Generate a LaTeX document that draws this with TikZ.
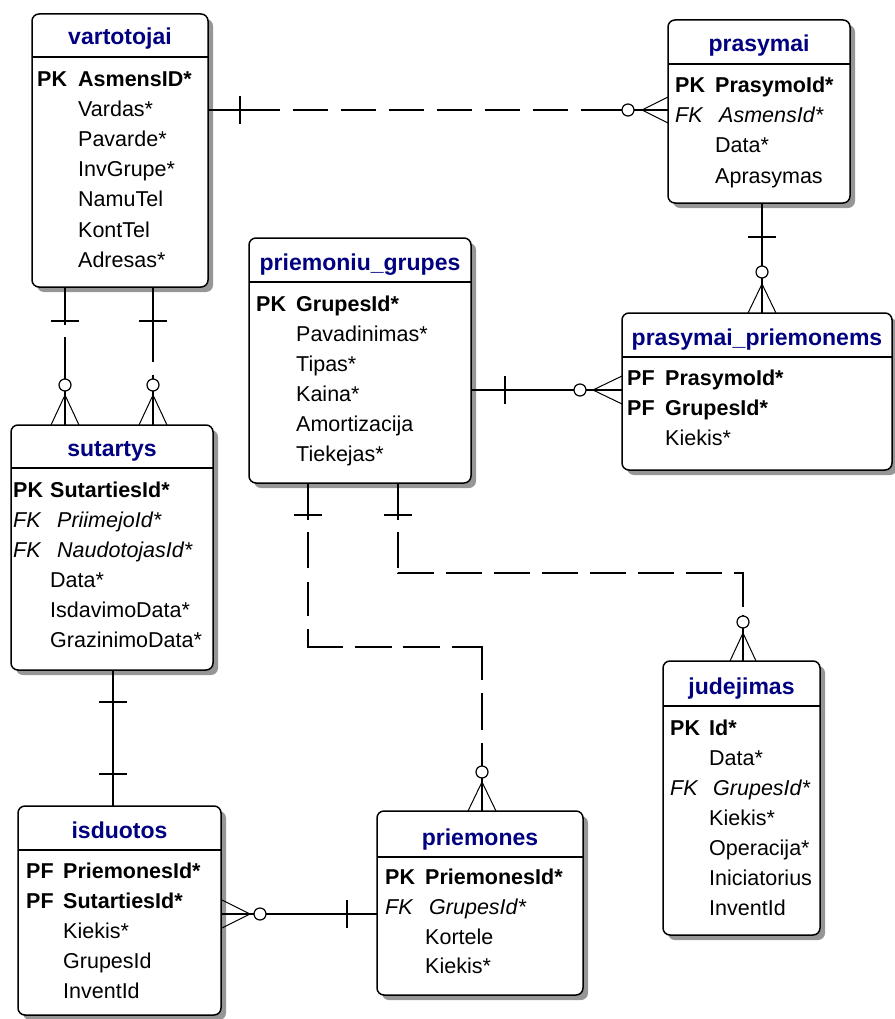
\documentclass[tikz,border=0pt]{standalone}
\usepackage{fontspec}
\setmainfont{Liberation Sans}
\usetikzlibrary{shadows}
\definecolor{titleblue}{RGB}{0,0,128}
\definecolor{shadowgray}{RGB}{150,150,150}
\newcommand\rowsize{\fontsize{21.5}{26}\selectfont}
\newcommand\ttlsize{\fontsize{23}{28}\selectfont}

\tikzset{
  entity/.style={draw, line width=1.5pt, fill=white, rounded corners=7pt,
    inner sep=0pt, outer sep=0pt,
    drop shadow={shadow xshift=5pt, shadow yshift=-5pt, fill=shadowgray, opacity=1}},
  ttl/.style={font=\ttlsize\bfseries, text=titleblue, anchor=base, inner sep=0pt},
  key/.style={font=\rowsize\bfseries, anchor=base west, inner sep=0pt},
  fkey/.style={font=\rowsize\itshape, anchor=base west, inner sep=0pt},
  attr/.style={font=\rowsize, anchor=base west, inner sep=0pt},
  sepline/.style={line width=1.5pt},
  rel/.style={line width=1.5pt},
  bar/.style={line width=1.5pt},
  foot/.style={line width=1pt},
  opt/.style={line width=1.2pt, fill=white},
}

\begin{document}
\begin{tikzpicture}[x=1pt, y=-1pt]
\useasboundingbox (0,0) rectangle (894,1019);

% ---------- tables ----------
\node[entity, minimum width=176pt, minimum height=273pt] (vartotojai) at (120,150.5) {};
\node[entity, minimum width=182pt, minimum height=183pt] (prasymai) at (759,111.5) {};
\node[entity, minimum width=270pt, minimum height=157pt] (prasymai_priemonems) at (757,391.5) {};
\node[entity, minimum width=222pt, minimum height=245pt] (priemoniu_grupes) at (360,360.5) {};
\node[entity, minimum width=202pt, minimum height=245pt] (sutartys) at (112,547.5) {};
\node[entity, minimum width=203pt, minimum height=209pt] (isduotos) at (119.5,910.5) {};
\node[entity, minimum width=206pt, minimum height=184pt] (priemones) at (480,903) {};
\node[entity, minimum width=157pt, minimum height=274pt] (judejimas) at (741.5,798) {};

% title separators
\foreach \n/\d in {vartotojai/43, prasymai/44, prasymai_priemonems/44, priemoniu_grupes/44,
                   sutartys/43, isduotos/44, priemones/46, judejimas/45}
  \draw[sepline] ([yshift=-\d pt]\n.north west) -- ([yshift=-\d pt]\n.north east);

% ---------- relationships ----------
% vartotojai -> prasymai
\draw[rel, dash pattern=on 72pt off 13pt on 35pt off 13pt on 35pt off 13pt on 35pt off 13pt
      on 35pt off 13pt on 35pt off 13pt on 35pt off 13pt on 200pt]
  (vartotojai.east |- 0,110) -- (prasymai.west |- 0,110);
\draw[bar] (240,96) -- (240,124);
\draw[foot] (642,110) -- (668,97) (642,110) -- (668,123);
\draw[opt] (628,110) circle (6pt);

% prasymai -> prasymai_priemonems
\draw[rel] (prasymai.south -| 762,0) -- (prasymai_priemonems.north -| 762,0);
\draw[bar] (748,237) -- (776,237);
\draw[foot] (762,284) -- (748,313) (762,284) -- (776,313);
\draw[opt] (762,272) circle (6pt);

% priemoniu_grupes -> prasymai_priemonems
\draw[rel] (priemoniu_grupes.east |- 0,390) -- (prasymai_priemonems.west |- 0,390);
\draw[bar] (505,376) -- (505,404);
\draw[foot] (593,390) -- (622,376) (593,390) -- (622,404);
\draw[opt] (580,390) circle (6pt);

% vartotojai -> sutartys (two links)
\draw[rel, dash pattern=on 38pt off 12pt on 200pt]
  (vartotojai.south -| 65,0) -- (sutartys.north -| 65,0);
\draw[bar] (51,321) -- (79,321);
\draw[foot] (65,395) -- (51,425) (65,395) -- (79,425);
\draw[opt] (65,385) circle (6pt);

\draw[rel, dash pattern=on 75pt off 13pt on 200pt]
  (vartotojai.south -| 153,0) -- (sutartys.north -| 153,0);
\draw[bar] (139,321) -- (167,321);
\draw[foot] (153,395) -- (139,425) (153,395) -- (167,425);
\draw[opt] (153,385) circle (6pt);

% sutartys -> isduotos
\draw[rel] (sutartys.south -| 113,0) -- (isduotos.north -| 113,0);
\draw[bar] (99,702) -- (127,702);
\draw[bar] (99,774) -- (127,774);

% priemones -> isduotos
\draw[rel] (isduotos.east |- 0,914) -- (priemones.west |- 0,914);
\draw[bar] (347,900) -- (347,928);
\draw[foot] (250,914) -- (222,900) (250,914) -- (222,928);
\draw[opt] (260,914) circle (6pt);

% priemoniu_grupes -> priemones
\draw[rel, dash pattern=on 37pt off 12pt on 36pt off 14pt on 34pt off 13pt on 53pt off 12pt
      on 37pt off 11pt on 37pt off 12pt on 63pt off 13pt on 37pt off 13pt on 100pt]
  (priemoniu_grupes.south -| 308,0) -- (308,647) -- (482,647) -- (priemones.north -| 482,0);
\draw[bar] (294,515) -- (322,515);
\draw[foot] (482,782) -- (468,811) (482,782) -- (496,811);
\draw[opt] (482,772) circle (6pt);

% priemoniu_grupes -> judejimas
\draw[rel, dash pattern=on 37pt off 12pt on 36pt off 5pt on 36pt off 12pt on 36pt off 12pt
      on 36pt off 12pt on 36pt off 12pt on 36pt off 12pt on 36pt off 12pt on 36pt off 12pt
      on 43pt off 8pt on 200pt]
  (priemoniu_grupes.south -| 398,0) -- (398,573) -- (743,573) -- (judejimas.north -| 743,0);
\draw[bar] (384,515) -- (412,515);
\draw[foot] (743,633) -- (730,661) (743,633) -- (756,661);
\draw[opt] (743,622) circle (6pt);

% ---------- table contents ----------
% vartotojai
\node[ttl] (vt) at (120,45) {vartotojai};
\node[key] (vk) at (37,87) {PK};
\node[key] (v0) at (78,87) {AsmensID*};
\foreach \t [count=\i] in {Vardas*,Pavarde*,InvGrupe*,NamuTel,KontTel,Adresas*}
  \node[attr] (v\i) at (78,87+30*\i) {\t};

% prasymai
\node[ttl] (pt) at (759,52) {prasymai};
\node[key] (pk) at (675,93) {PK};
\node[key] (p0) at (715,93) {PrasymoId*};
\node[fkey] (pfk) at (675,123) {FK};
\node[fkey] (p1) at (719,123) {AsmensId*};
\node[attr] (p2) at (715,153) {Data*};
\node[attr] (p3) at (715,183) {Aprasymas};

% prasymai_priemonems
\node[ttl] (ppt) at (757,345) {prasymai\_priemonems};
\node[key] (ppk0) at (627,385) {PF};
\node[key] (pp0) at (665,385) {PrasymoId*};
\node[key] (ppk1) at (627,415) {PF};
\node[key] (pp1) at (665,415) {GrupesId*};
\node[attr] (pp2) at (665,445) {Kiekis*};

% priemoniu_grupes
\node[ttl] (gt) at (360,270) {priemoniu\_grupes};
\node[key] (gk) at (256,311) {PK};
\node[key] (g0) at (296,311) {GrupesId*};
\foreach \t [count=\i] in {Pavadinimas*,Tipas*,Kaina*,Amortizacija,Tiekejas*}
  \node[attr] (g\i) at (296,311+30*\i) {\t};

% sutartys
\node[ttl] (st) at (112,456) {sutartys};
\node[key] (sk) at (13,497) {PK};
\node[key] (s0) at (50,497) {SutartiesId*};
\node[fkey] (sf1) at (13,527) {FK};
\node[fkey] (s1) at (57,527) {PriimejoId*};
\node[fkey] (sf2) at (13,557) {FK};
\node[fkey] (s2) at (57,557) {NaudotojasId*};
\node[attr] (s3) at (50,587) {Data*};
\node[attr] (s4) at (50,617) {IsdavimoData*};
\node[attr] (s5) at (50,647) {GrazinimoData*};

% isduotos
\node[ttl] (it) at (119.5,838) {isduotos};
\node[key] (ik0) at (26,878) {PF};
\node[key] (i0) at (63,878) {PriemonesId*};
\node[key] (ik1) at (26,908) {PF};
\node[key] (i1) at (63,908) {SutartiesId*};
\node[attr] (i2) at (63,938) {Kiekis*};
\node[attr] (i3) at (63,968) {GrupesId};
\node[attr] (i4) at (63,998) {InventId};

% priemones
\node[ttl] (mt) at (480,845) {priemones};
\node[key] (mk) at (385,884) {PK};
\node[key] (m0) at (425,884) {PriemonesId*};
\node[fkey] (mf) at (385,914) {FK};
\node[fkey] (m1) at (429,914) {GrupesId*};
\node[attr] (m2) at (425,944) {Kortele};
\node[attr] (m3) at (425,973) {Kiekis*};

% judejimas
\node[ttl] (jt) at (741.5,694) {judejimas};
\node[key] (jk) at (670,735) {PK};
\node[key] (j0) at (709,735) {Id*};
\node[attr] (j1) at (709,765) {Data*};
\node[fkey] (jf) at (670,795) {FK};
\node[fkey] (j2) at (713,795) {GrupesId*};
\node[attr] (j3) at (709,825) {Kiekis*};
\node[attr] (j4) at (709,855) {Operacija*};
\node[attr] (j5) at (709,885) {Iniciatorius};
\node[attr] (j6) at (709,915) {InventId};
\end{tikzpicture}
\end{document}
